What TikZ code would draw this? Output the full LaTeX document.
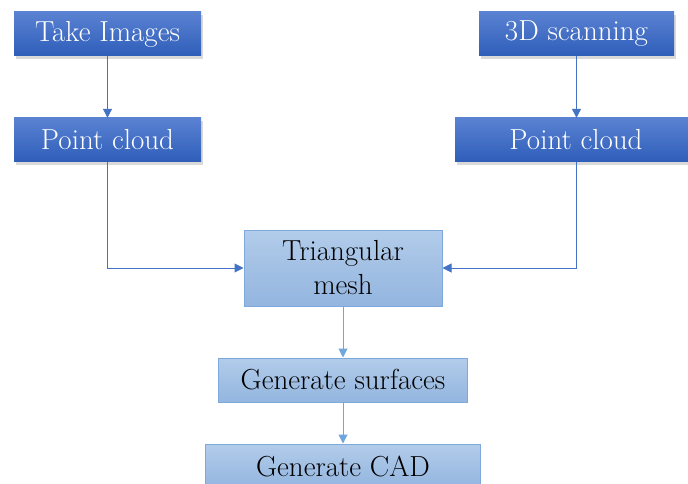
\documentclass[tikz,border=0pt]{standalone}
\usetikzlibrary{arrows.meta,shadows}
\definecolor{darktop}{HTML}{5A82D2}
\definecolor{darkbot}{HTML}{2E5DB9}
\definecolor{lighttop}{HTML}{B2CCEA}
\definecolor{lightbot}{HTML}{93B5DF}
\definecolor{lightedge}{HTML}{7EA9DC}
\definecolor{darkarrow}{HTML}{4472C4}
\definecolor{lightarrow}{HTML}{6FA6DC}
\tikzset{
  darkbox/.style={rectangle, top color=darktop, bottom color=darkbot, draw=none,
    text=white, font=\fontsize{29}{32}\selectfont, inner sep=0pt,
    drop shadow={shadow xshift=2pt, shadow yshift=-3pt, opacity=0.3}},
  lightbox/.style={rectangle, top color=lighttop, bottom color=lightbot, draw=lightedge,
    line width=1pt, text=black, font=\fontsize{29}{32}\selectfont, inner sep=0pt, align=center},
  darkline/.style={draw=darkarrow, line width=1pt, -{Triangle[length=9pt,width=9pt]}},
  lightline/.style={draw=lightarrow, line width=1pt, -{Triangle[length=9pt,width=9pt]}},
}
\begin{document}
\begin{tikzpicture}[x=1pt,y=-1pt]
\useasboundingbox (0,0) rectangle (688,484);
\clip (0,0) rectangle (688,484);
\node[darkbox, minimum width=187pt, minimum height=44pt] (take) at (107.5,34) {Take Images};
\node[darkbox, minimum width=187pt, minimum height=44pt] (pc1) at (107.5,140) {Point cloud};
\node[darkbox, minimum width=195pt, minimum height=44pt] (scan) at (576.5,34) {3D scanning};
\node[darkbox, minimum width=242pt, minimum height=44pt] (pc2) at (576,140) {Point cloud};
\node[lightbox, minimum width=198pt, minimum height=76pt] (mesh) at (343,268) {Triangular\\[2pt]mesh};
\node[lightbox, minimum width=249pt, minimum height=44pt] (surf) at (343,380) {Generate surfaces};
\node[lightbox, minimum width=275pt, minimum height=44pt] (cad) at (343,466) {Generate CAD};
\draw[darkline] (take) -- (pc1);
\draw[darkline] (scan) -- (scan |- pc2.north);
\draw[darkline] (pc1.south) |- (mesh.west);
\draw[darkline] (pc2.south -| scan) |- (mesh.east);
\draw[lightline] (mesh) -- (surf);
\draw[lightline] (surf) -- (cad);
\end{tikzpicture}
\end{document}
